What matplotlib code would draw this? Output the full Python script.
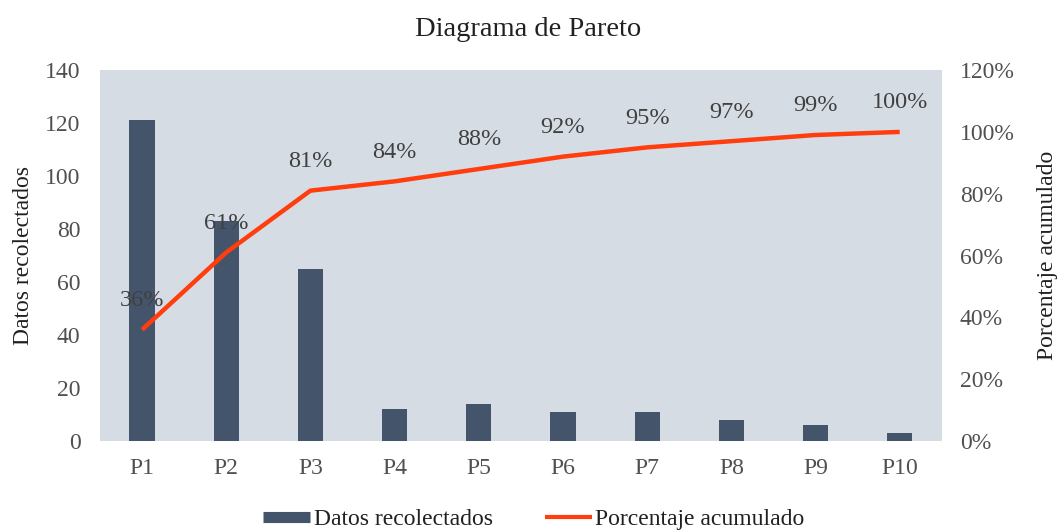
import matplotlib
matplotlib.use("Agg")
import matplotlib.pyplot as plt
from matplotlib.lines import Line2D
from matplotlib.ticker import FuncFormatter
import numpy as np

plt.rcParams['font.family'] = ['Liberation Serif', 'DejaVu Serif']

categorias = ['P1', 'P2', 'P3', 'P4', 'P5', 'P6', 'P7', 'P8', 'P9', 'P10']
datos = [121, 83, 65, 12, 14, 11, 11, 8, 6, 3]
# porcentaje acumulado de cada categoria
acumulado = [36, 61, 81, 84, 88, 92, 95, 97, 99, 100]

color_barra = '#44546A'
color_linea = '#FF3D0D'
color_fondo = '#D6DCE4'
color_texto = '#404040'

fig = plt.figure(figsize=(10.57, 5.31), dpi=100)
ax = fig.add_axes([0.0946, 0.1695, 0.7964, 0.6985])
ax.set_facecolor(color_fondo)

x = np.arange(len(categorias))
ax.bar(x, datos, width=0.3, color=color_barra, zorder=2)
ax.set_xlim(-0.5, len(categorias) - 0.5)
ax.set_ylim(0, 140)
ax.set_yticks(range(0, 141, 20))
ax.set_xticks(x)
ax.set_xticklabels(categorias)
ax.set_ylabel('Datos recolectados', fontsize=17, color='#202020', labelpad=8)

ax2 = ax.twinx()
ax2.plot(x, acumulado, color=color_linea, linewidth=3.2, solid_capstyle='butt', zorder=3)
ax2.set_ylim(0, 120)
ax2.set_yticks(range(0, 121, 20))
ax2.yaxis.set_major_formatter(FuncFormatter(lambda v, p: '{:.0f}%'.format(v)))
ax2.set_ylabel('Porcentaje acumulado', fontsize=17, color='#202020', labelpad=16)
for xi, v in zip(x, acumulado):
    ax2.annotate('{}%'.format(v), (xi, v), xytext=(0, 21), textcoords='offset points',
                 ha='center', va='center', fontsize=17.5, color=color_texto)

for a in (ax, ax2):
    for s in a.spines.values():
        s.set_visible(False)
    a.tick_params(length=0, labelsize=17, labelcolor='#505050')
ax.tick_params(axis='y', pad=14)
ax.tick_params(axis='x', pad=12)
ax2.tick_params(axis='y', pad=13)

fig.text(0.5, 0.945, 'Diagrama de Pareto', ha='center', va='center',
         fontsize=20.5, color='#202020')

handles = [Line2D([], [], color=color_barra, linewidth=8, solid_capstyle='butt'),
           Line2D([], [], color=color_linea, linewidth=3, solid_capstyle='butt')]
fig.legend(handles, ['Datos recolectados', 'Porcentaje acumulado'],
           loc='center', bbox_to_anchor=(0.505, 0.022), ncol=2, frameon=False,
           fontsize=17, handlelength=2.0, handletextpad=0.15, columnspacing=2.2,
           labelcolor='#202020')

fig.savefig('out.png', dpi=100, facecolor='white')
